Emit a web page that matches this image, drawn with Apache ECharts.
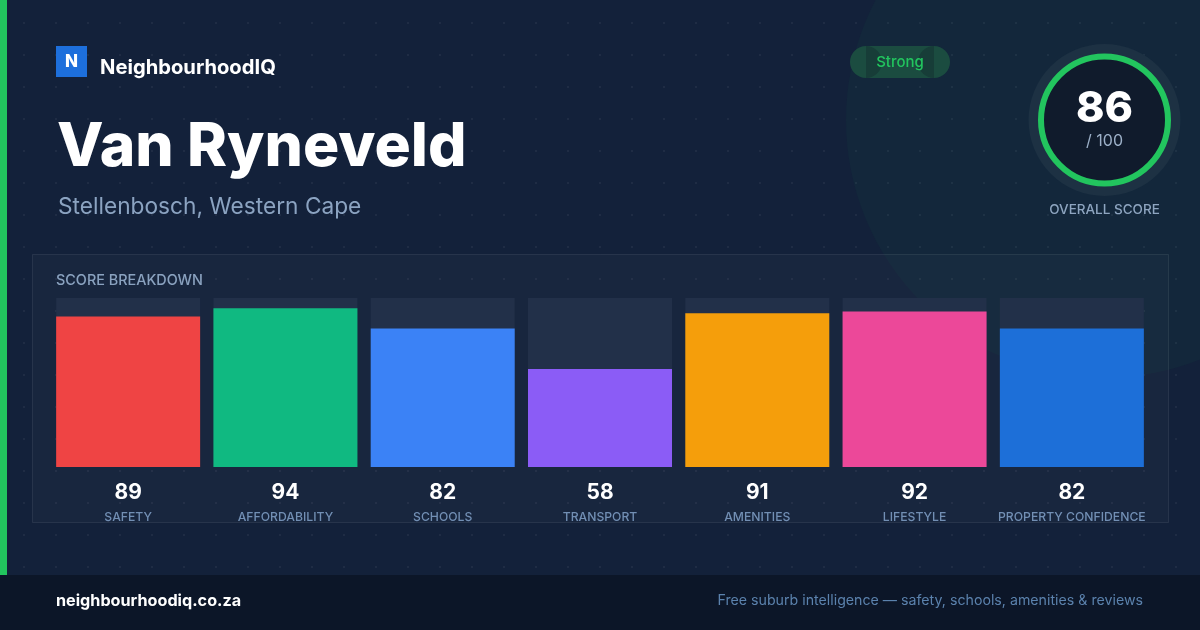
<!DOCTYPE html>
<html>
<head>
<meta charset="utf-8">
<script src="https://cdn.jsdelivr.net/npm/echarts@6/dist/echarts.min.js"></script>
<style>
  html, body { margin: 0; padding: 0; }
  body {
    width: 1200px; height: 630px; overflow: hidden;
    background-color: #13213a;
    background-image: radial-gradient(circle, rgba(255,255,255,0.05) 1px, transparent 1.5px);
    background-size: 32px 32px;
    background-position: 8px 7px;
  }
  #chart { width: 1200px; height: 630px; }
</style>
</head>
<body>
<div id="chart"></div>
<script>
const categories = ['SAFETY', 'AFFORDABILITY', 'SCHOOLS', 'TRANSPORT', 'AMENITIES', 'LIFESTYLE', 'PROPERTY CONFIDENCE'];
const scores = [89, 94, 82, 58, 91, 92, 82];
const barColors = ['#ef4444', '#10b981', '#3b82f6', '#8b5cf6', '#f59e0b', '#ec4899', '#1d6fd8'];
const overallScore = 86;
const overallMax = 100;
const suburb = 'Van Ryneveld';
const region = 'Stellenbosch, Western Cape';
const rating = 'Strong';

const FONT = 'Inter, "Noto Sans", sans-serif';
const chart = echarts.init(document.getElementById('chart'), null, { renderer: 'canvas' });

const option = {
  backgroundColor: 'transparent',
  animation: false,
  grid: { left: 49.5, width: 1101, top: 298, height: 169 },
  xAxis: {
    type: 'category',
    data: categories,
    axisLine: { show: false },
    axisTick: { show: false },
    axisLabel: {
      interval: 0,
      margin: 13,
      formatter: function (v, i) { return '{v|' + scores[i] + '}\n{c|' + v + '}'; },
      rich: {
        v: { fontFamily: FONT, fontSize: 21, fontWeight: 700, color: '#ffffff', lineHeight: 26 },
        c: { fontFamily: FONT, fontSize: 12.2, fontWeight: 500, color: '#6f8db3', lineHeight: 22 }
      }
    }
  },
  yAxis: { type: 'value', min: 0, max: overallMax, show: false, splitLine: { show: false } },
  series: [{
    type: 'bar',
    barWidth: 144,
    data: scores.map((s, i) => ({ value: s, itemStyle: { color: barColors[i] } })),
    showBackground: true,
    backgroundStyle: { color: '#223049' },
    z: 5
  }],
  graphic: [
    // big decorative circle
    { type: 'circle', shape: { cx: 1104, cy: 120, r: 258 }, style: { fill: 'rgba(34,197,94,0.045)' }, z: 0, silent: true },
    // left accent strip
    { type: 'rect', shape: { x: 0, y: 0, width: 7, height: 575 }, style: { fill: '#22c55e' }, z: 1 },
    // footer
    { type: 'rect', shape: { x: 0, y: 575, width: 1200, height: 55 }, style: { fill: '#0c1628' }, z: 1 },
    { type: 'text', left: 56, top: 593, style: { text: 'neighbourhoodiq.co.za', fill: '#ffffff', font: '700 16.2px ' + FONT }, z: 2 },
    { type: 'text', right: 57, top: 594, style: { text: 'Free suburb intelligence — safety, schools, amenities & reviews', fill: '#5b82ad', font: '400 14.2px ' + FONT }, z: 2 },
    // logo
    { type: 'rect', shape: { x: 56, y: 46, width: 31, height: 31 }, style: { fill: '#1d6fdc' }, z: 2 },
    { type: 'text', x: 71.5, y: 62, style: { text: 'N', fill: '#ffffff', font: '800 17px ' + FONT, align: 'center', verticalAlign: 'middle' }, z: 3 },
    { type: 'text', x: 100, y: 68, style: { text: 'NeighbourhoodIQ', fill: '#ffffff', font: '700 20.2px ' + FONT, verticalAlign: 'middle' }, z: 2 },
    // title
    { type: 'text', x: 57, y: 148, style: { text: suburb, fill: '#ffffff', font: '800 60.5px ' + FONT, verticalAlign: 'middle' }, z: 2 },
    { type: 'text', x: 58, y: 207, style: { text: region, fill: '#8ba3c1', font: '400 22.7px ' + FONT, verticalAlign: 'middle' }, z: 2 },
    // badge
    { type: 'circle', shape: { cx: 866, cy: 62, r: 16 }, style: { fill: '#1b4c40' }, z: 2 },
    { type: 'circle', shape: { cx: 934, cy: 62, r: 16 }, style: { fill: '#1b4c40' }, z: 2 },
    { type: 'rect', shape: { x: 866, y: 46, width: 68, height: 32 }, style: { fill: '#1b4c40' }, z: 2 },
    { type: 'sector', shape: { cx: 866, cy: 62, r: 16, r0: 0, startAngle: -Math.PI / 2, endAngle: Math.PI / 2 }, style: { fill: '#173d38' }, z: 2.5 },
    { type: 'sector', shape: { cx: 934, cy: 62, r: 16, r0: 0, startAngle: Math.PI / 2, endAngle: Math.PI * 1.5 }, style: { fill: '#173d38' }, z: 2.5 },
    { type: 'text', x: 900, y: 62, style: { text: rating, fill: '#22c55e', font: '500 15px ' + FONT, align: 'center', verticalAlign: 'middle' }, z: 3 },
    // score ring
    { type: 'circle', shape: { cx: 1104.5, cy: 120, r: 76 }, style: { fill: '#1d3143' }, z: 2 },
    { type: 'circle', shape: { cx: 1104.5, cy: 120, r: 63.5 }, style: { fill: '#101b2c', stroke: '#22c55e', lineWidth: 6 }, z: 3 },
    { type: 'text', x: 1104.5, y: 109, style: { text: String(overallScore), fill: '#ffffff', font: '800 43px ' + FONT, align: 'center', verticalAlign: 'middle' }, z: 4 },
    { type: 'text', x: 1104.5, y: 141.5, style: { text: '/ ' + overallMax, fill: '#9cb0c8', font: '400 16px ' + FONT, align: 'center', verticalAlign: 'middle' }, z: 4 },
    { type: 'text', x: 1104.5, y: 209.5, style: { text: 'OVERALL SCORE', fill: '#8ea5c0', font: '500 13.5px ' + FONT, align: 'center', verticalAlign: 'middle' }, z: 4 },
    // panel
    { type: 'rect', shape: { x: 32.5, y: 254.5, width: 1136, height: 268 }, style: { fill: 'rgba(255,255,255,0.025)', stroke: 'rgba(255,255,255,0.08)', lineWidth: 1 }, z: 1 },
    { type: 'text', x: 56, y: 280.5, style: { text: 'SCORE BREAKDOWN', fill: '#8aa2bf', font: '500 14.4px ' + FONT, verticalAlign: 'middle' }, z: 2 }
  ]
};
chart.setOption(option);
</script>
</body>
</html>
